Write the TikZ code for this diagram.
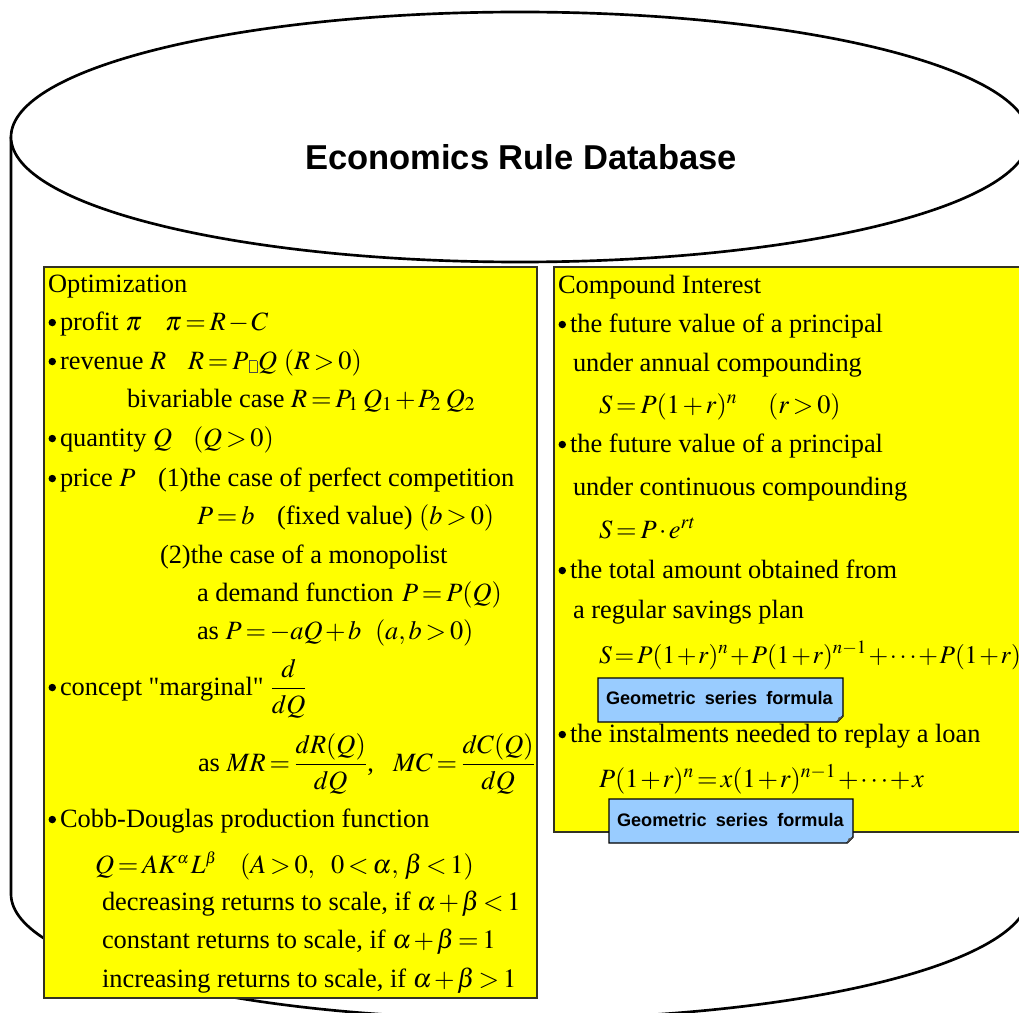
\documentclass[tikz,border=0pt]{standalone}
\usepackage{amsmath}
\usepackage{mathptmx}
\usepackage{pict2e}
\usepackage{fontspec}
\setmainfont{Liberation Serif}[Ligatures=TeXOff]
\newfontfamily\arialfont{Liberation Sans}
\definecolor{boxyellow}{HTML}{FFFF00}
\definecolor{calloutblue}{HTML}{99CCFF}
\definecolor{boxedge}{HTML}{333322}
\newcommand{\tofubox}{\kern0.5pt\raisebox{-2.5pt}{\color{black!70}\fboxsep=0pt\fboxrule=0.4pt\fbox{\rule{0pt}{8.5pt}\hspace{5.5pt}}}\kern0.5pt}
\newcommand{\gsp}{\hspace{0.5em}}
\newcommand{\bul}{{\setlength{\unitlength}{1pt}\begin{picture}(9,0)\put(3.2,5.6){\circle*{5.6}}\end{picture}}}
\newcommand{\tightmath}{\thickmuskip=2mu plus 2mu\medmuskip=1.2mu plus 1mu minus 1mu\relax}
\thickmuskip=2.6mu plus 2mu
\medmuskip=1.7mu plus 1mu minus 1mu
\begin{document}
\begin{tikzpicture}[x=0.75pt,y=0.75pt,
  cyl/.style={line width=2pt, draw=black},
  ybox/.style={fill=boxyellow, draw=boxedge, line width=1.1pt},
  callout/.style={fill=calloutblue, draw=black, line width=1.1pt},
  txt/.style={anchor=base west, inner sep=0pt, outer sep=0pt, font=\fontsize{19.8pt}{23pt}\selectfont},
  gstxt/.style={anchor=base west, inner sep=0pt, outer sep=0pt, font=\arialfont\bfseries\fontsize{13.6pt}{15pt}\selectfont},
  titletxt/.style={anchor=base, inner sep=0pt, font=\arialfont\bfseries\fontsize{25.9pt}{30pt}\selectfont}]
\useasboundingbox (0,0) rectangle (1019,-1012);
\clip (0,0) rectangle (1019,-1012);
% cylinder
\fill[white] (11,-137) -- (11,-894) arc[start angle=180,end angle=360,x radius=509,y radius=125] -- (1029,-137) -- cycle;
\draw[cyl] (11,-137) -- (11,-894) arc[start angle=180,end angle=360,x radius=509,y radius=125] -- (1029,-137);
\filldraw[cyl, fill=white] (520,-137) ellipse [x radius=509, y radius=125];
\node[titletxt] (title) at (521,-170) {Economics Rule Database};
% left box
\draw[ybox] (44,-267) rectangle (537,-998);
\node[txt] (l1) at (48,-292) {Optimization};
\node[txt] (l2a) at (48,-330) {\bul profit $\pi$};
\node[txt] (l2b) at (165,-330) {$\pi = R - C$};
\node[txt] (l3a) at (48,-369) {\bul revenue $R$};
\node[txt] (l3b) at (188,-369) {$R = P$\tofubox$Q$ $(R > 0)$};
\node[txt] (l4) at (127,-407) {bivariable case $R = P_1\mkern3mu Q_1 + P_2\mkern3mu Q_2$};
\node[txt] (l5a) at (48,-446) {\bul quantity $Q$};
\node[txt] (l5b) at (193,-446) {$(Q > 0)$};
\node[txt] (l6a) at (48,-486) {\bul price $P$};
\node[txt] (l6b) at (158,-486) {(1)the case of perfect competition};
\node[txt] (l7a) at (197,-524) {$P = b$};
\node[txt] (l7b) at (277,-524) {(fixed value) $(b > 0)$};
\node[txt] (l8) at (160,-563) {(2)the case of a monopolist};
\node[txt] (l9a) at (197,-601) {a demand function};
\node[txt] (l9b) at (402,-601) {$P = P(Q)$};
\node[txt] (l10a) at (197,-639) {as $P = -aQ + b$};
\node[txt] (l10b) at (375,-639) {$(a,b > 0)$};
\node[txt] (l11) at (48,-695) {\bul concept "marginal" $\dfrac{d}{dQ}$};
\node[txt] (l12a) at (198,-771) {as $MR = \dfrac{dR(Q)}{dQ}$,};
\node[txt] (l12b) at (393,-771) {$MC = \dfrac{dC(Q)}{dQ}$};
\node[txt] (l13) at (48,-827) {\bul Cobb-Douglas production function};
\node[txt] (l14a) at (95,-873) {$Q = AK^{\scriptscriptstyle\alpha}\mkern1mu L^{\scriptscriptstyle\beta}$};
\node[txt] (l14b) at (240,-873) {$(A > 0,\ \ 0 < \alpha,\mkern2mu \beta < 1)$};
\node[txt] (l15) at (102,-910) {decreasing returns to scale, if $\alpha + \beta < 1$};
\node[txt] (l16) at (102,-948) {constant returns to scale, if $\alpha + \beta = 1$};
\node[txt] (l17) at (102,-987) {increasing returns to scale, if $\alpha + \beta > 1$};
% right box
\draw[ybox] (554,-267) rectangle (1030,-832);
\node[txt] (r1) at (558,-293) {Compound Interest};
\node[txt] (r2) at (558,-332) {\bul the future value of a principal};
\node[txt] (r3) at (573,-371) {under annual compounding};
\node[txt] (r4a) at (599,-413) {$S = P(1+r)^n$};
\node[txt] (r4b) at (768,-413) {$(r > 0)$};
\node[txt] (r5) at (558,-452) {\bul the future value of a principal};
\node[txt] (r6) at (573,-495) {under continuous compounding};
\node[txt] (r7) at (599,-538) {$S = P\cdot e^{rt}$};
\node[txt] (r8) at (558,-578) {\bul the total amount obtained from};
\node[txt] (r9) at (573,-618) {a regular savings plan};
\node[txt, font=\fontsize{19pt}{23pt}\selectfont\tightmath] (r10) at (599,-663) {$S = P(1+r)^n + P(1+r)^{n-1} + \cdots + P(1+r)$};
\node[txt] (r11) at (558,-742) {\bul the instalments needed to replay a loan};
\node[txt, font=\fontsize{19.8pt}{23pt}\selectfont\tightmath] (r12) at (599,-787) {$P(1+r)^n = x(1+r)^{n-1} + \cdots + x$};
% callouts
\draw[callout] (598,-678) -- (843,-678) -- (843,-716) -- (837,-722) -- (598,-722) -- cycle;
\fill[black!65] (837,-722) -- (838.5,-717.5) -- (843,-716) -- cycle;
\node[gstxt] (g1) at (606,-704) {Geometric\gsp series\gsp formula};
\draw[callout] (609,-799) -- (853,-799) -- (853,-837) -- (847,-843) -- (609,-843) -- cycle;
\fill[black!65] (847,-843) -- (848.5,-838.5) -- (853,-837) -- cycle;
\node[gstxt] (g2) at (617,-826) {Geometric\gsp series\gsp formula};
\end{tikzpicture}
\end{document}
